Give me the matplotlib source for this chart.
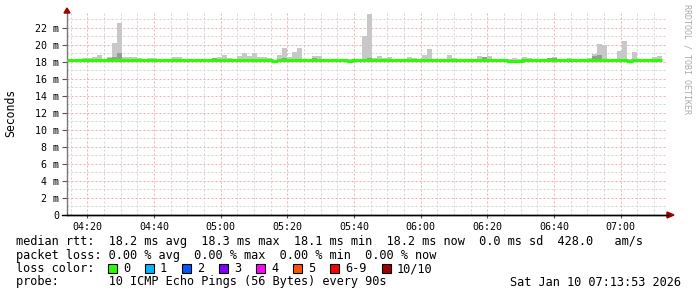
import matplotlib
matplotlib.use('Agg')
import matplotlib.pyplot as plt
from matplotlib.patches import Rectangle, Polygon
import numpy as np

# ---- data (90 s steps, starting 04:13:53) ----
t_start = 13 + 53 / 60.0   # minutes after 04:00
step = 1.5                 # minutes

median_ms = [18.2] * 119
for i, v in {55: 18.23, 56: 18.17, 57: 18.23, 88: 18.17, 89: 18.1, 90: 18.17,
             41: 18.17, 94: 18.23, 112: 18.17, 113: 18.23}.items():
    median_ms[i] = v

smoke_hi = [18.3, 18.3, 18.4, 18.5, 18.5, 18.6, 18.8, 18.3, 18.6, 20.2,
            22.6, 18.6, 18.6, 18.6, 18.5, 18.3, 18.5, 18.5, 18.3, 18.3,
            18.3, 18.6, 18.6, 18.3, 18.3, 18.3, 18.3, 18.3, 18.3, 18.5,
            18.6, 18.85, 18.5, 18.3, 18.7, 19.0, 18.7, 19.0, 18.6, 18.6,
            18.5, 18.25, 18.85, 19.65, 18.6, 19.2, 19.65, 18.3, 18.3, 18.7,
            18.7, 18.25, 18.25, 18.4, 18.4, 18.3, 18.3, 18.3, 18.4, 21.05,
            23.6, 18.5, 18.7, 18.5, 18.6, 18.4, 18.3, 18.4, 18.6, 18.5,
            18.3, 18.85, 19.5, 18.4, 18.3, 18.4, 18.85, 18.5, 18.3, 18.3,
            18.3, 18.4, 18.7, 18.6, 18.7, 18.4, 18.3, 18.25, 18.3, 18.5,
            18.4, 18.6, 18.5, 18.3, 18.3, 18.4, 18.5, 18.6, 18.4, 18.4,
            18.5, 18.4, 18.3, 18.4, 18.5, 18.9, 20.1, 20.0, 18.4, 18.3,
            19.3, 20.5, 18.4, 19.2, 18.3, 18.3, 18.4, 18.6, 18.7]

smoke_dark = [18.25] * 119
for i, v in {8: 18.45, 9: 18.6, 10: 19.0, 14: 18.4, 15: 18.3, 20: 18.3,
             23: 18.3, 27: 18.3, 28: 18.3, 29: 18.45, 39: 18.35, 42: 18.35,
             43: 18.45, 49: 18.45, 50: 18.4, 53: 18.4, 54: 18.4, 59: 18.4,
             60: 18.5, 67: 18.35, 72: 18.4, 77: 18.4, 83: 18.6, 96: 18.5,
             97: 18.5, 104: 18.3, 105: 18.7, 106: 18.8, 107: 18.4, 111: 18.4,
             116: 18.4}.items():
    smoke_dark[i] = v

smoke_lo = [18.0] * 119

tick_minutes = [20, 40, 60, 80, 100, 120, 140, 160, 180]
tick_labels = ['04:20', '04:40', '05:00', '05:20', '05:40', '06:00', '06:20', '06:40', '07:00']
y_ticks = [0, 2, 4, 6, 8, 10, 12, 14, 16, 18, 20, 22]

loss_labels = ['0', '1', '2', '3', '4', '5', '6-9', '10/10']
loss_colors = ['#26ff00', '#00b8ff', '#0059ff', '#7e00ff', '#ff00ff', '#ff5500', '#ff0000', '#a10000']

W, H = 697, 297
mono = 'DejaVu Sans Mono'


def fx(x):
    return x / W


def fy(y):
    return 1 - y / H


fig = plt.figure(figsize=(W / 100, H / 100), dpi=100)
ax = fig.add_axes([fx(67), fy(215), 600 / W, 202 / H])
ax.set_xlim(t_start, t_start + 180)
ax.set_ylim(0, 23.76)

n = len(median_ms)
x = t_start + step * np.arange(n)
lo = np.array(smoke_lo)
ax.bar(x, np.array(smoke_hi) - lo, bottom=lo, width=step, align='edge',
       color='#c8c8c8', linewidth=0, zorder=2)
ax.bar(x, np.array(smoke_dark) - lo, bottom=lo, width=step, align='edge',
       color='#9a9a9a', linewidth=0, zorder=3)
xs = np.append(x, x[-1] + step)
ys = np.append(median_ms, median_ms[-1])
ax.plot(xs, ys, drawstyle='steps-post', color='#26ff00', lw=2.2, zorder=4,
        solid_capstyle='butt')

# grid
dots = (0, (2, 2))
for m in np.arange(15, 194, 5):
    if m % 20 == 0:
        continue
    ax.axvline(m, color='#d4d4d4', lw=0.72, ls=dots, zorder=1)
for m in tick_minutes:
    ax.axvline(m, color='#eab0b0', lw=0.72, ls=dots, zorder=1)
for v in range(1, 24, 2):
    ax.axhline(v, color='#d4d4d4', lw=0.72, ls=dots, zorder=1)
for v in y_ticks[1:]:
    ax.axhline(v, color='#eab0b0', lw=0.72, ls=dots, zorder=1)

ax.set_xticks(tick_minutes)
ax.set_xticklabels(tick_labels, fontfamily=mono, fontsize=7.2)
ax.set_yticks(y_ticks)
ax.set_yticklabels(['%d m' % v if v else '0' for v in y_ticks], fontfamily=mono, fontsize=7.2)
ax.tick_params(axis='y', length=3.5, width=0.8, color='#555555', pad=2)
ax.tick_params(axis='x', length=2, width=0.8, color='#555555', pad=3)
for s in ['top', 'right']:
    ax.spines[s].set_visible(False)
ax.spines['left'].set_color('#777777')
ax.spines['bottom'].set_color('black')
ax.spines['left'].set_linewidth(1)
ax.spines['bottom'].set_linewidth(1)

# axis arrows
arrow_c = '#990000'
fig.add_artist(Polygon([[fx(64), fy(13)], [fx(70), fy(13)], [fx(67), fy(8)]],
                       closed=True, color=arrow_c, transform=fig.transFigure))
fig.add_artist(Polygon([[fx(667), fy(212)], [fx(667), fy(218)], [fx(674), fy(215)]],
                       closed=True, color=arrow_c, transform=fig.transFigure))
fig.add_artist(plt.Line2D([fx(62), fx(668)], [fy(215), fy(215)], color='black', lw=1,
                          transform=fig.transFigure))

fig.text(fx(11), fy(113), 'Seconds', rotation=90, ha='center', va='center',
         fontfamily=mono, fontsize=8.3)
fig.text(fx(687), fy(4), 'RRDTOOL / TOBI OETIKER', rotation=270, ha='center', va='top',
         fontfamily=mono, fontsize=6, color='#aaaaaa')

# legend text
fs = 8.55
fig.text(fx(16), fy(241), 'median rtt:  18.2 ms avg  18.3 ms max  18.1 ms min  18.2 ms now  0.0 ms sd  428.0   am/s',
         fontfamily=mono, fontsize=fs, va='center')
fig.text(fx(16), fy(255), 'packet loss: 0.00 % avg  0.00 % max  0.00 % min  0.00 % now',
         fontfamily=mono, fontsize=fs, va='center')
fig.text(fx(16), fy(269), 'loss color:', fontfamily=mono, fontsize=fs, va='center')
box_x = [108, 145, 182, 219, 256, 293, 330, 382]
for bx, lab, c in zip(box_x, loss_labels, loss_colors):
    fig.add_artist(Rectangle((fx(bx), fy(273)), 9 / W, 9 / H, facecolor=c, edgecolor='black',
                             lw=0.8, transform=fig.transFigure))
    fig.text(fx(bx + 15), fy(269), lab, fontfamily=mono, fontsize=fs, va='center')
fig.text(fx(16), fy(282), 'probe:       10 ICMP Echo Pings (56 Bytes) every 90s',
         fontfamily=mono, fontsize=fs, va='center')
fig.text(fx(681), fy(282), 'Sat Jan 10 07:13:53 2026', fontfamily=mono, fontsize=fs,
         va='center', ha='right')

fig.savefig('out.png', dpi=100)
